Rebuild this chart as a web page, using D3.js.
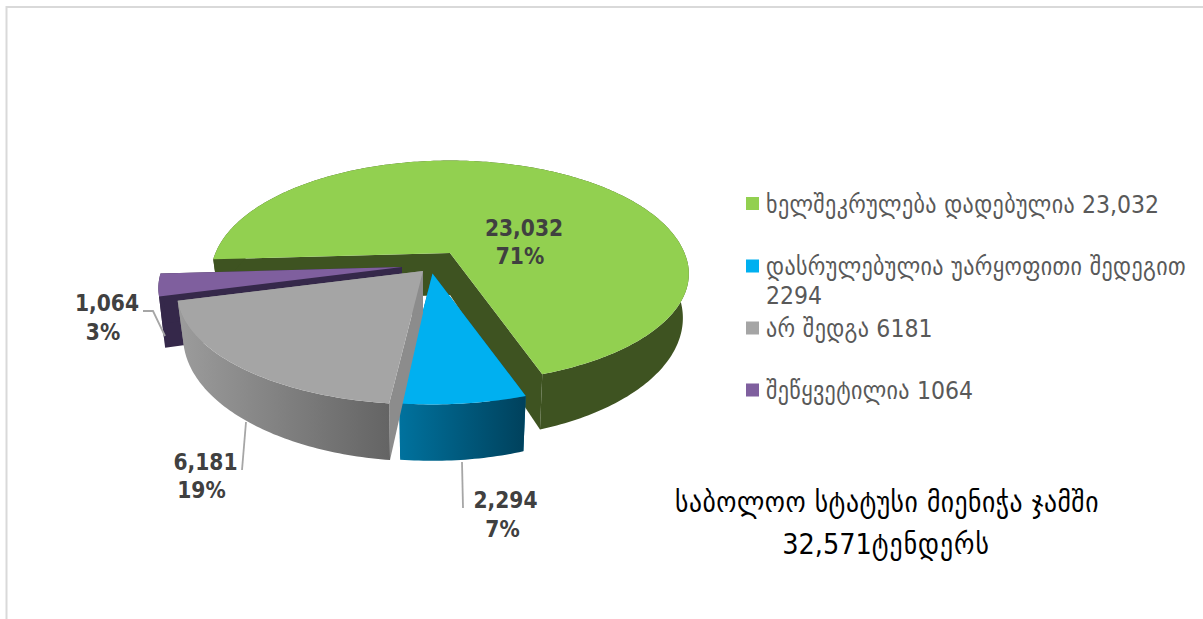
<!DOCTYPE html>
<html>
<head>
<meta charset="utf-8">
<script src="https://cdnjs.cloudflare.com/ajax/libs/d3/7.8.5/d3.min.js"></script>
<style>
html,body{margin:0;padding:0;background:#fff;}
svg{display:block;}
text{font-family:"DejaVu Sans Condensed","DejaVu Sans",sans-serif;font-stretch:condensed;}
</style>
</head>
<body>
<svg id="chart" width="1203" height="619"></svg>
<script>
// ---- data ----
const categories = ["ხელშეკრულება დადებულია", "დასრულებულია უარყოფითი შედეგით", "არ შედგა", "შეწყვეტილია"];
const values = [23032, 2294, 6181, 1064];
const legendValues = ["23,032", "2294", "6181", "1064"];
const noteFirstLine = "საბოლოო სტატუსი მიენიჭა ჯამში";
const noteTotal = "32,571";
const noteUnit = "ტენდერს";

// ---- layout and style ----
const W = 1203, H = 619;
const topColors = ["#92d050", "#00b0f0", "#a5a5a5", "#7f5f9e"];
const wallColors = ["#3e5321", "#006a93", "#8c8c8c", "#35284a"];
const wallGradients = [["#3f5622", "#3b4f20"], ["#00729e", "#00415c"], ["#9c9c9c", "#646464"], ["#35284a", "#35284a"]];
const apexX = [450, 432.5, 423, 402], apexY = [253, 273.5, 271, 267];
const sliceScale = [1, 1.01, 1.03, 1.02];
const wallBase = [42, 42, 42, 48];
const labelAt = [
  [[524, 236], [520, 264]],
  [[505.5, 508], [502.5, 537]],
  [[205.5, 470], [201.5, 498]],
  [[107, 311], [103, 340]]
];
const legendX = 746, legendTextX = 766, legendBox = 13;
const legendBaselines = [[212.5], [275, 304], [337], [399]];
const A = 234.5, B = 105, Bback = 110, persp = 0.19, bottomScaleX = 0.975, bottomScaleY = 1.11;

const svg = d3.select("#chart");
const defs = svg.append("defs");

// frame
svg.append("path").attr("d", `M6.5,${H}V7H${W}`).attr("fill", "none").attr("stroke", "#d9d9d9").attr("stroke-width", 2);

// pie angles
const pie = d3.pie().sort(null).startAngle(-93.4 * Math.PI / 180).endAngle((360 - 93.4) * Math.PI / 180);
const arcs = pie(values);

// perspective projection of a rim angle relative to the slice apex
const rimX = d3.scaleLinear().domain([0, 1]).range([0, A]);
const rimY = d3.scaleLinear().domain([-1, 0, 1]).range([-Bback, 0, B]);
function topPoint(i, t) {
  const u = Math.sin(t), v = -Math.cos(t), w = 1 / (1 - persp * v), s = sliceScale[i];
  return [apexX[i] + rimX(u * w) * s, apexY[i] + rimY(v * w) * s];
}
function bottomPoint(i, t) {
  const p = topPoint(i, t);
  return [apexX[i] + (p[0] - apexX[i]) * bottomScaleX, apexY[i] + wallBase[i] + (p[1] - apexY[i]) * bottomScaleY];
}
const line = d3.line();
function rim(i, a0, a1, fn) {
  const n = Math.max(4, Math.ceil(Math.abs(a1 - a0) * 60));
  return d3.range(n + 1).map(k => fn(i, a0 + (a1 - a0) * k / n));
}

// wall gradients
wallGradients.forEach((g, i) => {
  const lg = defs.append("linearGradient").attr("id", "wall" + i).attr("x1", 0).attr("x2", 1).attr("y1", 0).attr("y2", 0);
  lg.append("stop").attr("offset", "0").attr("stop-color", g[0]);
  lg.append("stop").attr("offset", "1").attr("stop-color", g[1]);
});

// back-to-front drawing order
const order = [0, 3, 1, 2];
order.forEach(i => {
  const d = arcs[i], a0 = d.startAngle, a1 = d.endAngle;
  const g = svg.append("g").attr("class", "slice");
  const apexTop = [apexX[i], apexY[i]];
  const apexBottom = [apexX[i], apexY[i] + wallBase[i]];
  // radial walls
  [a0, a1].forEach(t => {
    g.append("path")
      .attr("d", line([apexTop, topPoint(i, t), bottomPoint(i, t), apexBottom]) + "Z")
      .attr("fill", wallColors[i]);
  });
  // outer wall
  g.append("path")
    .attr("d", line(rim(i, a0, a1, topPoint).concat(rim(i, a1, a0, bottomPoint))) + "Z")
    .attr("fill", i === 0 ? wallColors[0] : `url(#wall${i})`);
  // top face
  g.append("path")
    .attr("d", line([apexTop].concat(rim(i, a0, a1, topPoint))) + "Z")
    .attr("fill", topColors[i]);
});

// leader lines
const leaderColor = "#a6a6a6";
const leaderLine = d3.line();
[
  [[463, 508], [462, 462]],
  [[242, 470], [246, 422]],
  [[143, 311], [153, 311], [165, 336]]
].forEach(pts => {
  svg.append("path").attr("d", leaderLine(pts)).attr("fill", "none")
    .attr("stroke", leaderColor).attr("stroke-width", 1.8);
});

// data labels
const total = d3.sum(values);
const fmtValue = d3.format(",");
const fmtPct = d3.format(".0%");
values.forEach((v, i) => {
  [fmtValue(v), fmtPct(v / total)].forEach((s, j) => {
    svg.append("text").attr("x", labelAt[i][j][0]).attr("y", labelAt[i][j][1])
      .attr("text-anchor", "middle").attr("font-size", 22.5).attr("font-weight", "bold")
      .attr("fill", "#404040").text(s);
  });
});

// legend: Georgian runs are set slightly wider than the digits
const legendSpacing = 0.37;
categories.forEach((c, i) => {
  const b0 = legendBaselines[i][0];
  svg.append("rect").attr("x", legendX).attr("y", b0 - 15.5).attr("width", legendBox).attr("height", legendBox)
    .attr("fill", topColors[i]);
  const t = svg.append("text").attr("x", legendTextX).attr("y", b0)
    .attr("font-size", 24.5).attr("fill", "#595959");
  t.append("tspan").attr("letter-spacing", legendSpacing).text(c);
  if (legendBaselines[i].length > 1) {
    svg.append("text").attr("x", legendTextX).attr("y", legendBaselines[i][1])
      .attr("font-size", 24.5).attr("fill", "#595959").text(legendValues[i]);
  } else {
    t.append("tspan").text(" " + legendValues[i]);
  }
});

// note
const note1 = svg.append("text").attr("x", 887).attr("y", 512)
  .attr("text-anchor", "middle").attr("font-size", 28.5).attr("fill", "#000");
note1.append("tspan").attr("letter-spacing", 0.5).text(noteFirstLine);
const note2 = svg.append("text").attr("x", 886).attr("y", 554)
  .attr("text-anchor", "middle").attr("font-size", 28.5).attr("fill", "#000");
note2.append("tspan").text(noteTotal);
note2.append("tspan").attr("letter-spacing", 1).text(noteUnit);
</script>
</body>
</html>
